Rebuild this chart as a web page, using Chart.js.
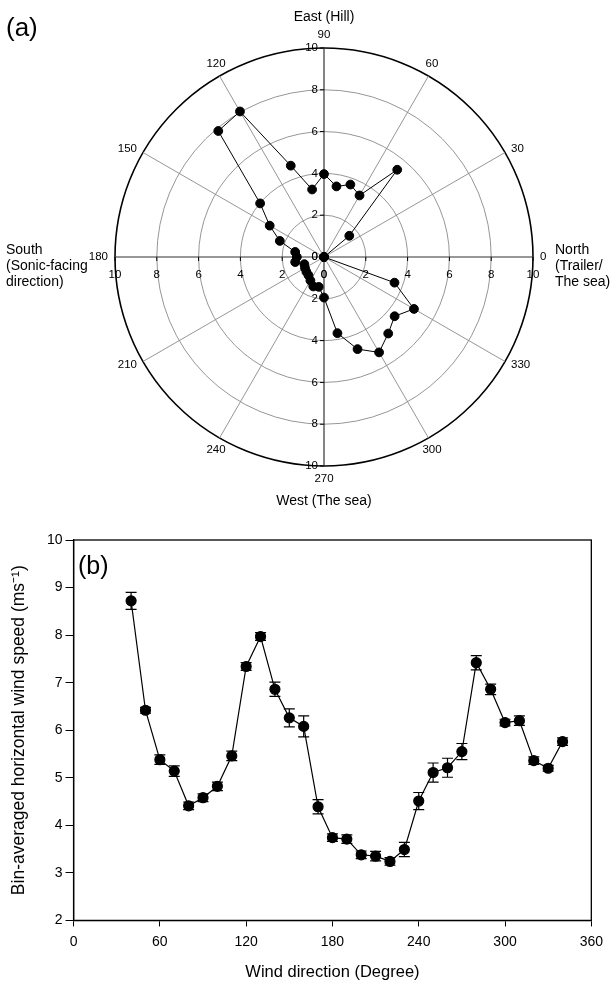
<!DOCTYPE html>
<html>
<head>
<meta charset="utf-8">
<script src="https://cdn.jsdelivr.net/npm/chart.js@4.4.1/dist/chart.umd.min.js"></script>
<style>
  html, body { margin: 0; padding: 0; background: #fff; }
  #page { position: relative; width: 610px; height: 982px; font-family: "Liberation Sans", Arial, sans-serif; color: #000; }
  .box { position: absolute; left: 0; width: 610px; }
  .lbl { position: absolute; font-size: 14px; line-height: 16px; white-space: nowrap; }
  .tag { position: absolute; font-size: 26px; line-height: 26px; }
</style>
</head>
<body>
<div id="page">
  <div class="box" style="top:0;height:520px"><canvas id="polar"></canvas></div>
  <div class="box" style="top:520px;height:462px"><canvas id="speed"></canvas></div>

  <div class="tag" style="left:6px;top:14px">(a)</div>
  <div class="lbl" style="left:0;width:648px;text-align:center;top:8px">East (Hill)</div>
  <div class="lbl" style="left:0;width:648px;text-align:center;top:492px">West (The sea)</div>
  <div class="lbl" style="left:6px;top:241px">South<br>(Sonic-facing<br>direction)</div>
  <div class="lbl" style="left:555px;top:241px">North<br>(Trailer/<br>The sea)</div>
  <div class="tag" style="left:78px;top:552px;font-size:25px">(b)</div>
</div>

<script>
// ---- panel (a): polar plot ----
const polarAngles = [0, 10, 20, 30, 40, 50, 60, 70, 80, 90, 100, 110,
  120, 130, 140, 150, 160, 170, 180, 190, 200, 210, 220, 230,
  240, 250, 260, 270, 280, 290, 300, 310, 320, 330, 340, 350];
const polarRadius = [0, 0, 0, 0, 1.58, 5.45, 3.40, 3.69, 3.43, 3.97, 3.28, 4.65,
  8.04, 7.87, 3.99, 3.00, 2.25, 1.40, 1.30, 1.40, 1.00, 1.05, 1.10, 1.15,
  1.30, 1.50, 1.45, 1.94, 3.70, 4.69, 5.27, 4.78, 4.41, 4.97, 3.59, 0];
const ringTicks = [0, 2, 4, 6, 8, 10];
const angleTicks = [0, 30, 60, 90, 120, 150, 180, 210, 240, 270, 300, 330];

// ---- panel (b): bin-averaged wind speed ----
const windDir = [40, 50, 60, 70, 80, 90, 100, 110, 120, 130, 140, 150, 160, 170, 180,
  190, 200, 210, 220, 230, 240, 250, 260, 270, 280, 290, 300, 310, 320, 330, 340];
const windSpeed = [8.72, 6.42, 5.38, 5.14, 4.41, 4.58, 4.82, 5.46, 7.34, 7.97, 6.86, 6.26, 6.08, 4.39, 3.74,
  3.71, 3.38, 3.35, 3.24, 3.49, 4.51, 5.11, 5.21, 5.55, 7.42, 6.86, 6.16, 6.20, 5.36, 5.20, 5.76];
const speedErr = [0.18, 0.06, 0.10, 0.11, 0.08, 0.08, 0.09, 0.10, 0.08, 0.08, 0.15, 0.19, 0.22, 0.15, 0.08,
  0.09, 0.08, 0.10, 0.08, 0.15, 0.18, 0.20, 0.20, 0.17, 0.15, 0.11, 0.07, 0.10, 0.08, 0.06, 0.08];

const FONT = '"Liberation Sans", Arial, sans-serif';
Chart.defaults.font.family = FONT;
Chart.defaults.color = '#000';

// radar goes clockwise, the plot goes counter-clockwise -> reverse the label order
const radarOrder = polarAngles.map(a => (360 - a) % 360);
const radarData = radarOrder.map(a => polarRadius[polarAngles.indexOf(a)]);

const isMainAxis = a => a % 90 === 0;

const polarDecor = {
  id: 'polarDecor',
  afterDraw(chart) {
    const s = chart.scales.r;
    const ctx = chart.ctx;
    const cx = s.xCenter, cy = s.yCenter;
    ctx.save();
    ctx.fillStyle = '#000';
    ctx.strokeStyle = '#000';
    ctx.lineWidth = 1;
    ctx.font = '11.5px ' + FONT;

    // value labels along the four half-axes
    ringTicks.forEach(v => {
      const d = s.getDistanceFromCenterForValue(v);
      ctx.textAlign = 'right';
      ctx.textBaseline = 'middle';
      ctx.fillText(String(v), cx - 6, cy - d);
      ctx.fillText(String(v), cx - 6, cy + d);
      ctx.textAlign = 'center';
      ctx.textBaseline = 'top';
      ctx.fillText(String(v), cx - d, cy + 12);
      ctx.fillText(String(v), cx + d, cy + 12);
      if (v > 0) {
        ctx.beginPath();
        ctx.moveTo(cx - 4, cy - d); ctx.lineTo(cx, cy - d);
        ctx.moveTo(cx - 4, cy + d); ctx.lineTo(cx, cy + d);
        ctx.moveTo(cx - d, cy); ctx.lineTo(cx - d, cy + 4);
        ctx.moveTo(cx + d, cy); ctx.lineTo(cx + d, cy + 4);
        ctx.stroke();
      }
    });

    // direction labels round the outside
    angleTicks.forEach(a => {
      const idx = radarOrder.indexOf(a);
      const p = s.getPointPosition(idx, s.drawingArea + 7);
      const rad = a * Math.PI / 180;
      const sn = Math.sin(rad), cs = Math.cos(rad);
      if (Math.abs(sn) > 0.6) {
        ctx.textAlign = 'center';
        ctx.textBaseline = sn > 0 ? 'bottom' : 'top';
      } else {
        ctx.textAlign = cs > 0 ? 'left' : 'right';
        ctx.textBaseline = 'middle';
      }
      ctx.fillText(String(a), p.x, p.y);
    });
    ctx.restore();
  }
};

new Chart(document.getElementById('polar'), {
  type: 'radar',
  data: {
    labels: radarOrder,
    datasets: [{
      data: radarData,
      borderColor: '#000',
      borderWidth: 1,
      fill: false,
      pointRadius: 4.4,
      pointBackgroundColor: '#000',
      pointBorderColor: '#000'
    }]
  },
  options: {
    responsive: true,
    maintainAspectRatio: false,
    animation: false,
    layout: { padding: { left: 115, right: 77, top: 48, bottom: 54 } },
    plugins: { legend: { display: false }, tooltip: { enabled: false } },
    elements: { line: { tension: 0 } },
    scales: {
      r: {
        min: 0,
        max: 10,
        startAngle: 90,
        ticks: { display: false, stepSize: 2 },
        pointLabels: { display: false },
        grid: {
          circular: true,
          color: c => c.tick && c.tick.value === 10 ? '#000' : '#8a8a8a',
          lineWidth: c => c.tick && c.tick.value === 10 ? 1.6 : 0.9
        },
        angleLines: {
          color: c => isMainAxis(radarOrder[c.index]) ? '#333' : '#8a8a8a',
          lineWidth: c => {
            const a = radarOrder[c.index];
            if (a % 30 !== 0) return 0;
            return isMainAxis(a) ? 1.2 : 0.9;
          }
        }
      }
    }
  },
  plugins: [polarDecor]
});

// error bars and closed frame for panel (b)
const errorBars = {
  id: 'errorBars',
  afterDatasetsDraw(chart) {
    const { ctx, scales: { x, y } } = chart;
    ctx.save();
    ctx.strokeStyle = '#000';
    ctx.lineWidth = 1.2;
    windDir.forEach((d, i) => {
      const px = x.getPixelForValue(d);
      const top = y.getPixelForValue(windSpeed[i] + speedErr[i]);
      const bot = y.getPixelForValue(windSpeed[i] - speedErr[i]);
      ctx.beginPath();
      ctx.moveTo(px, top); ctx.lineTo(px, bot);
      ctx.moveTo(px - 5.5, top); ctx.lineTo(px + 5.5, top);
      ctx.moveTo(px - 5.5, bot); ctx.lineTo(px + 5.5, bot);
      ctx.stroke();
    });
    ctx.restore();
  },
  afterDraw(chart) {
    const a = chart.chartArea;
    const ctx = chart.ctx;
    ctx.save();
    ctx.strokeStyle = '#000';
    ctx.lineWidth = 1.3;
    ctx.strokeRect(a.left, a.top, a.right - a.left, a.bottom - a.top);
    ctx.restore();
  }
};

new Chart(document.getElementById('speed'), {
  type: 'line',
  data: {
    datasets: [{
      data: windDir.map((d, i) => ({ x: d, y: windSpeed[i] })),
      borderColor: '#000',
      borderWidth: 1.2,
      pointRadius: 5,
      pointBackgroundColor: '#000',
      pointBorderColor: '#000',
      tension: 0
    }]
  },
  options: {
    responsive: true,
    maintainAspectRatio: false,
    animation: false,
    layout: { padding: { left: 0, right: 12, top: 20, bottom: 0 } },
    plugins: { legend: { display: false }, tooltip: { enabled: false } },
    scales: {
      x: {
        type: 'linear',
        min: 0,
        max: 360,
        ticks: { stepSize: 60, font: { size: 14 }, padding: 7, maxRotation: 0 },
        grid: { drawOnChartArea: false, tickLength: 6, color: '#000', tickColor: '#000' },
        border: { display: true, color: '#000', width: 1.3 },
        title: { display: true, text: 'Wind direction (Degree)', font: { size: 16.5 }, padding: { top: 5, bottom: 0 } }
      },
      y: {
        min: 2,
        max: 10,
        ticks: { stepSize: 1, font: { size: 14 }, padding: 3 },
        grid: { drawOnChartArea: false, tickLength: 8, color: '#000', tickColor: '#000' },
        border: { display: true, color: '#000', width: 1.3 },
        title: { display: true, text: 'Bin-averaged horizontal wind speed (ms\u207B\u00B9)', font: { size: 17.5 }, padding: { top: 9, bottom: 14 } }
      }
    }
  },
  plugins: [errorBars]
});
</script>
</body>
</html>
